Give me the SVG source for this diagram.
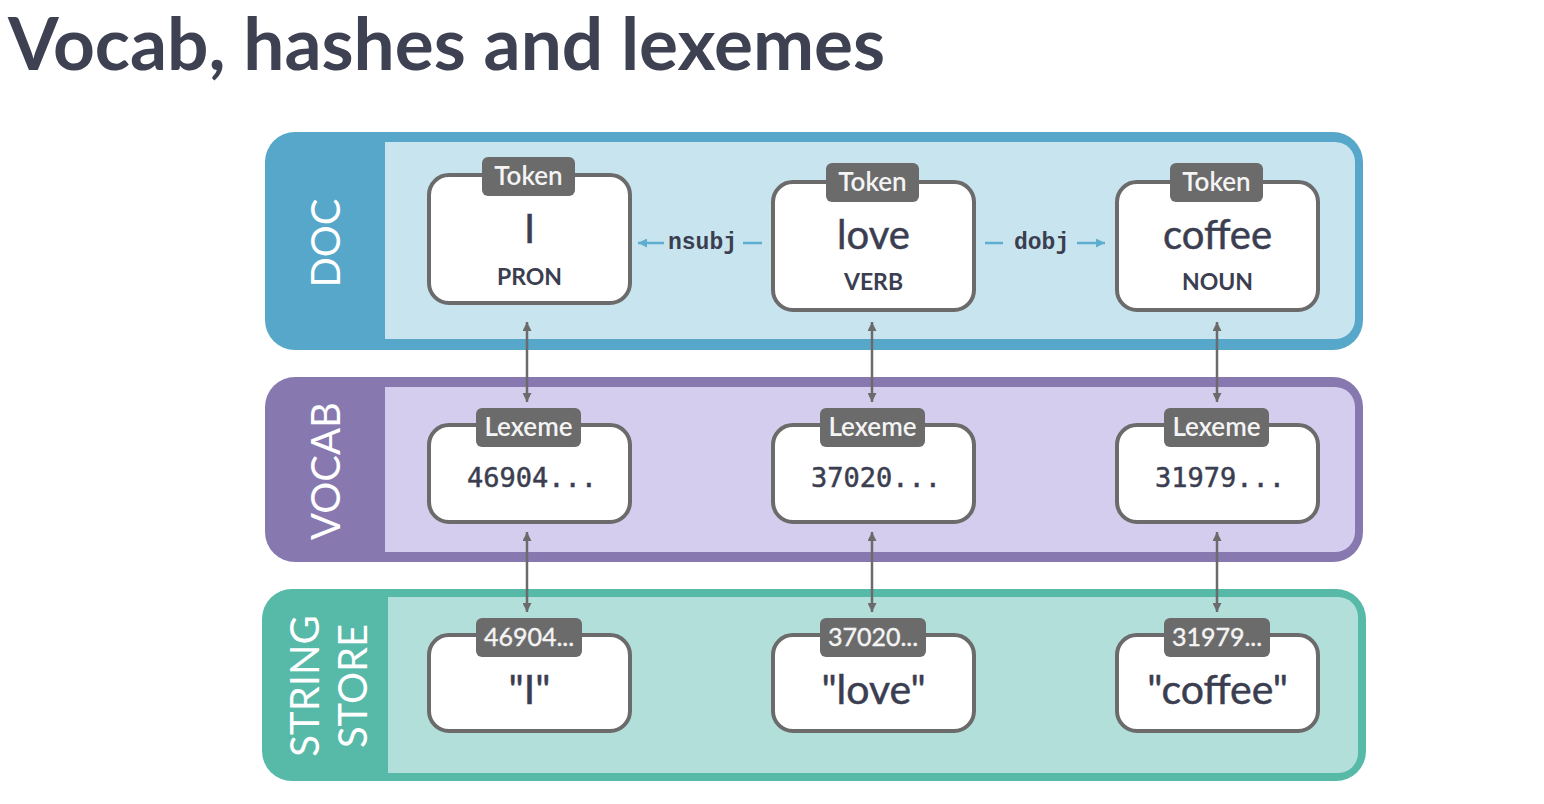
<svg xmlns="http://www.w3.org/2000/svg" width="1544" height="804" viewBox="0 0 1544 804">
<defs>
<marker id="ag" viewBox="0 0 10 10" refX="10" refY="5" markerWidth="10" markerHeight="9" markerUnits="userSpaceOnUse" orient="auto-start-reverse"><path d="M0,0 L10,5 L0,10 z" fill="#6b6b6b"/></marker>
<marker id="ab" viewBox="0 0 10 10" refX="10" refY="5" markerWidth="10" markerHeight="9" markerUnits="userSpaceOnUse" orient="auto-start-reverse"><path d="M0,0 L10,5 L0,10 z" fill="#5eaed0"/></marker>
</defs>
<style>
.box{fill:#fff;stroke:#6b6b6b;stroke-width:4}
.tag{fill:#6b6b6b}
.tagt{font-family:Lato,"Liberation Sans",sans-serif;font-size:26px;font-weight:600;fill:#f4f4f4;text-anchor:middle}
.tagn{font-family:Lato,"Liberation Sans",sans-serif;font-size:25px;fill:#f4f4f4;stroke:#f4f4f4;stroke-width:0.4;text-anchor:middle}
.word{font-family:Lato,"Liberation Sans",sans-serif;font-size:40px;fill:#3a3e50;stroke:#3a3e50;stroke-width:0.5;text-anchor:middle}
.sword{font-family:Lato,"Liberation Sans",sans-serif;font-size:41px;fill:#3a3e50;stroke:#3a3e50;stroke-width:0.5;text-anchor:middle}
.pos{font-family:Lato,"Liberation Sans",sans-serif;font-size:23px;font-weight:bold;fill:#3a3e50;text-anchor:middle}
.hash{font-family:"DejaVu Sans Mono","Liberation Mono",monospace;font-size:27px;fill:#3a3e50;stroke:#3a3e50;stroke-width:0.5;text-anchor:middle}
.dep{font-family:"Liberation Mono",monospace;font-size:23px;font-weight:bold;fill:#3a3e50}
.band{font-family:Lato,"Liberation Sans",sans-serif;font-size:40px;fill:#fff;text-anchor:middle}
.vline{stroke:#6b6b6b;stroke-width:2.5;fill:none}
.hline{stroke:#5eaed0;stroke-width:2.5;fill:none}
</style>
<rect width="1544" height="804" fill="#fff"/>
<text x="8" y="70" font-family="Lato,'Liberation Sans',sans-serif" font-size="73" font-weight="bold" fill="#3d4152">Vocab, hashes and lexemes</text>

<g id="doc-band">
<rect x="265" y="132" width="1098" height="218" rx="30" fill="#56a7c9"/>
<path d="M385,142 H1335 A20,20 0 0 1 1355,162 V319 A20,20 0 0 1 1335,339 H385 Z" fill="#c8e5ef"/>
<text class="band" transform="translate(340,243) rotate(-90)">DOC</text>
</g>
<g id="vocab-band">
<rect x="265" y="377" width="1098" height="185" rx="30" fill="#8779b0"/>
<path d="M385,387 H1335 A20,20 0 0 1 1355,407 V532 A20,20 0 0 1 1335,552 H385 Z" fill="#d5cdee"/>
<text class="band" transform="translate(340,471) rotate(-90)">VOCAB</text>
</g>
<g id="string-band">
<rect x="262" y="589" width="1104" height="192" rx="30" fill="#57b9a8"/>
<path d="M388,597 H1338 A20,20 0 0 1 1358,617 V753 A20,20 0 0 1 1338,773 H388 Z" fill="#b3dfdb"/>
<text class="band" transform="translate(319,686) rotate(-90)">STRING</text>
<text class="band" transform="translate(367,686) rotate(-90)">STORE</text>
</g>

<g id="connectors">
<line class="vline" x1="527" y1="322" x2="527" y2="402" marker-start="url(#ag)" marker-end="url(#ag)"/>
<line class="vline" x1="872" y1="322" x2="872" y2="402" marker-start="url(#ag)" marker-end="url(#ag)"/>
<line class="vline" x1="1217" y1="322" x2="1217" y2="402" marker-start="url(#ag)" marker-end="url(#ag)"/>
<line class="vline" x1="527" y1="532" x2="527" y2="612" marker-start="url(#ag)" marker-end="url(#ag)"/>
<line class="vline" x1="872" y1="532" x2="872" y2="612" marker-start="url(#ag)" marker-end="url(#ag)"/>
<line class="vline" x1="1217" y1="532" x2="1217" y2="612" marker-start="url(#ag)" marker-end="url(#ag)"/>
<line class="hline" x1="664" y1="243" x2="638" y2="243" marker-end="url(#ab)"/>
<text class="dep" x="668" y="249">nsubj</text>
<line class="hline" x1="743" y1="243" x2="762" y2="243"/>
<line class="hline" x1="985" y1="243" x2="1003" y2="243"/>
<text class="dep" x="1014" y="249">dobj</text>
<line class="hline" x1="1077" y1="243" x2="1105" y2="243" marker-end="url(#ab)"/>
</g>

<g id="token-i">
<rect class="box" x="429" y="175" width="201" height="128" rx="20"/>
<rect class="tag" x="482" y="157" width="93" height="39" rx="6"/>
<text class="tagt" x="528.5" y="185">Token</text>
<text class="word" x="529.5" y="243">I</text>
<text class="pos" x="529.5" y="285">PRON</text>
</g>
<g id="token-love">
<rect class="box" x="773" y="182" width="201" height="128" rx="20"/>
<rect class="tag" x="826" y="163" width="93" height="39" rx="6"/>
<text class="tagt" x="872.5" y="191">Token</text>
<text class="word" x="873.5" y="249">love</text>
<text class="pos" x="873.5" y="290">VERB</text>
</g>
<g id="token-coffee">
<rect class="box" x="1117" y="182" width="201" height="128" rx="20"/>
<rect class="tag" x="1170" y="163" width="93" height="39" rx="6"/>
<text class="tagt" x="1216.5" y="191">Token</text>
<text class="word" x="1217.5" y="249">coffee</text>
<text class="pos" x="1217.5" y="290">NOUN</text>
</g>

<g id="lexeme-46904">
<rect class="box" x="429" y="425" width="201" height="97" rx="20"/>
<rect class="tag" x="476" y="408" width="105" height="39" rx="6"/>
<text class="tagt" x="528.5" y="436">Lexeme</text>
<text class="hash" x="532" y="487">46904...</text>
</g>
<g id="lexeme-37020">
<rect class="box" x="773" y="425" width="201" height="97" rx="20"/>
<rect class="tag" x="820" y="408" width="105" height="39" rx="6"/>
<text class="tagt" x="872.5" y="436">Lexeme</text>
<text class="hash" x="876" y="487">37020...</text>
</g>
<g id="lexeme-31979">
<rect class="box" x="1117" y="425" width="201" height="97" rx="20"/>
<rect class="tag" x="1164" y="408" width="105" height="39" rx="6"/>
<text class="tagt" x="1216.5" y="436">Lexeme</text>
<text class="hash" x="1220" y="487">31979...</text>
</g>

<g id="string-i">
<rect class="box" x="429" y="635" width="201" height="96" rx="20"/>
<rect class="tag" x="476" y="618" width="106" height="39" rx="6"/>
<text class="tagn" x="529" y="646">46904...</text>
<text class="sword" x="529.5" y="704">"I"</text>
</g>
<g id="string-love">
<rect class="box" x="773" y="635" width="201" height="96" rx="20"/>
<rect class="tag" x="820" y="618" width="106" height="39" rx="6"/>
<text class="tagn" x="873" y="646">37020...</text>
<text class="sword" x="873.5" y="704">"love"</text>
</g>
<g id="string-coffee">
<rect class="box" x="1117" y="635" width="201" height="96" rx="20"/>
<rect class="tag" x="1164" y="618" width="106" height="39" rx="6"/>
<text class="tagn" x="1217" y="646">31979...</text>
<text class="sword" x="1217.5" y="704">"coffee"</text>
</g>
</svg>
